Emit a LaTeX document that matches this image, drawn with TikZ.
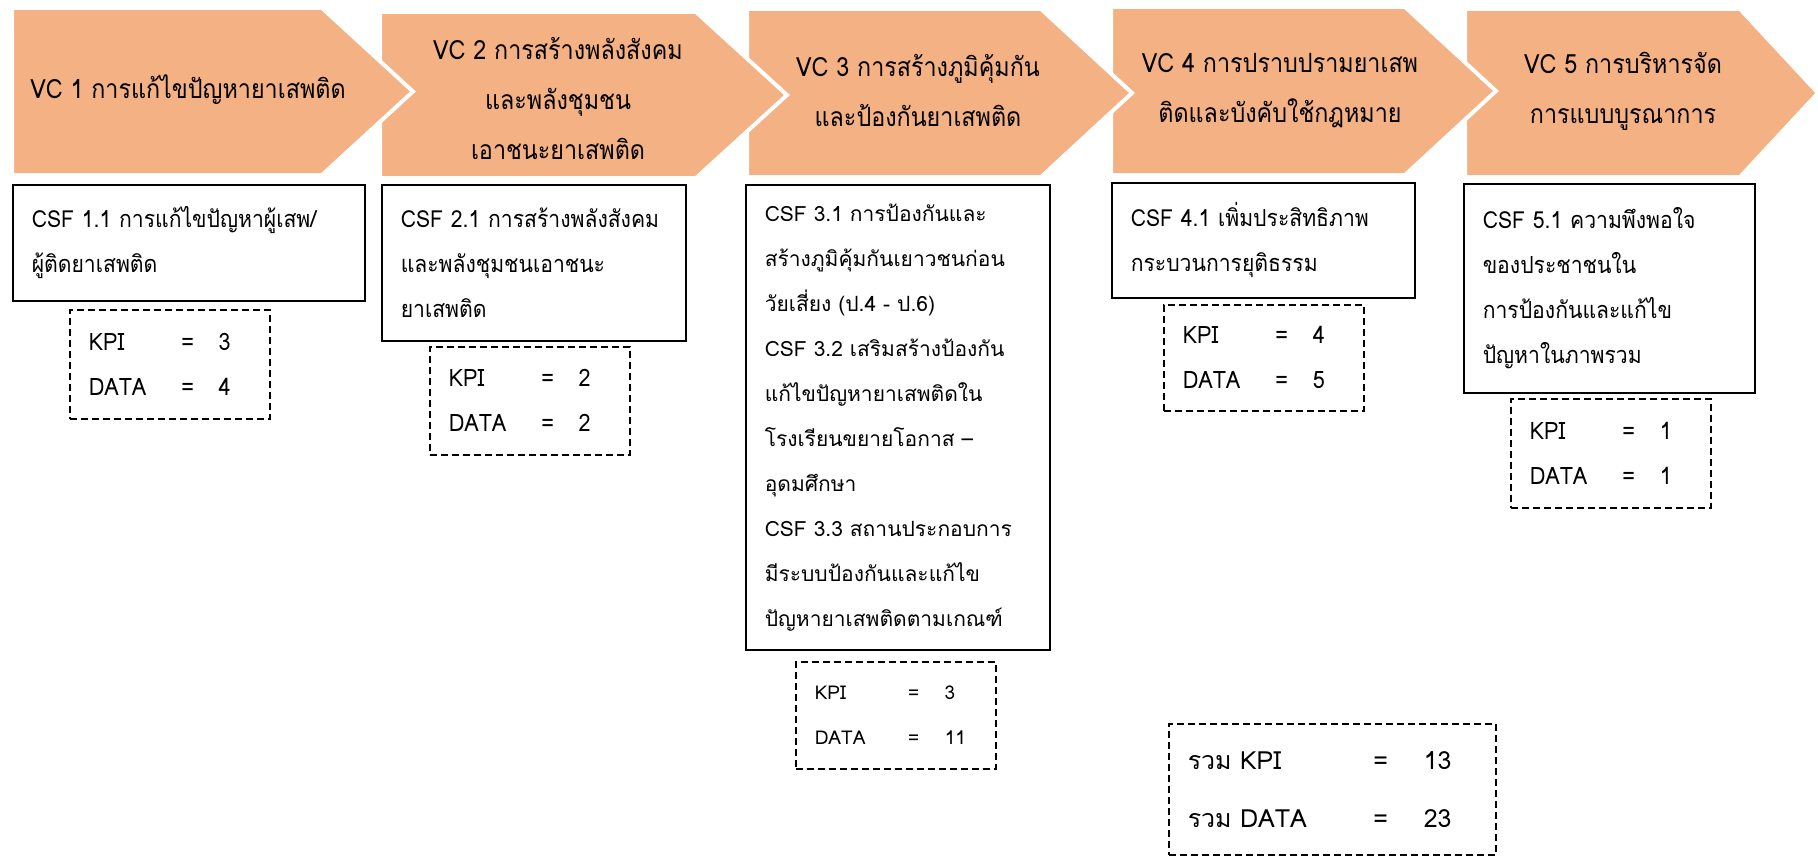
\documentclass[tikz,border=0pt]{standalone}
\usepackage{fontspec}
\setmainfont[Script=Thai]{Loma}
\newfontfamily\narrowfont[Script=Thai,FakeStretch=0.88]{Loma}
\newfontfamily\csffont[Script=Thai,FakeStretch=0.9]{Loma}
\usetikzlibrary{positioning}
\definecolor{vcorange}{HTML}{F4B183}
\tikzset{
  vcshape/.style={fill=vcorange, draw=white, line width=4pt},
  vclabel/.style={align=center, inner sep=0pt, font=\narrowfont\fontsize{26.5}{50}\selectfont},
  csfbox/.style={draw, line width=1.5pt, anchor=north west, align=left, inner xsep=19pt, inner ysep=0pt, font=\csffont\fontsize{23.5}{45}\selectfont},
  csfwide/.style={csfbox, font=\fontsize{21}{45}\selectfont},
  kpibox/.style={draw, line width=1.5pt, dash pattern=on 7pt off 4pt, anchor=north west, align=left, inner xsep=19pt, inner ysep=0pt, text width=162pt, font=\csffont\fontsize{24}{45}\selectfont},
  kpiwide/.style={kpibox, font=\fontsize{19}{45}\selectfont}
}
\newcommand{\kpidata}[2]{\makebox[86pt][l]{KPI}\makebox[26pt]{=}\hspace{18pt}#1\\
  \makebox[86pt][l]{DATA}\makebox[26pt]{=}\hspace{18pt}#2}
\begin{document}
\begin{tikzpicture}[x=1pt, y=-1pt]
  \useasboundingbox (0,0) rectangle (1818,856);
  \foreach \l/\t/\s/\b/\p in {1465/9/1740/177/1818, 1111/7/1405/175/1496, 747/9/1041/177/1132, 380/12/696/178/787, 12/8/322/175/413}
    \draw[vcshape] (\l,\t) -- (\s,\t) -- (\p,{(\t+\b)/2}) -- (\s,\b) -- (\l,\b) -- cycle;

  \node[vclabel] (vc1) at (188,90) {VC 1 การแก้ไขปัญหายาเสพติด};
  \node[vclabel] (vc2) at (558,99) {VC 2 การสร้างพลังสังคม\\และพลังชุมชน\\เอาชนะยาเสพติด};
  \node[vclabel] (vc3) at (918,91) {VC 3 การสร้างภูมิคุ้มกัน\\และป้องกันยาเสพติด};
  \node[vclabel] (vc4) at (1280,91) {VC 4 การปราบปรามยาเสพ\\ติดและบังคับใช้กฎหมาย};
  \node[vclabel] (vc5) at (1623,91) {VC 5 การบริหารจัด\\การแบบบูรณาการ};

  \node[csfbox, text width=314pt, minimum height=116pt] (csf1) at (12,184)
    {CSF~1.1~การแก้ไขปัญหาผู้เสพ/\\ผู้ติดยาเสพติด};
  \node[csfbox, text width=266pt, minimum height=156pt] (csf2) at (381,184)
    {CSF~2.1~การสร้างพลังสังคม\\และพลังชุมชนเอาชนะ\\ยาเสพติด};
  \node[csfwide, text width=266pt, minimum height=465pt] (csf3) at (745,184)
    {CSF 3.1 การป้องกันและ\\สร้างภูมิคุ้มกันเยาวชนก่อน\\วัยเสี่ยง (ป.4 - ป.6)\\
     CSF 3.2 เสริมสร้างป้องกัน\\แก้ไขปัญหายาเสพติดใน\\โรงเรียนขยายโอกาส –\\อุดมศึกษา\\
     CSF 3.3 สถานประกอบการ\\มีระบบป้องกันและแก้ไข\\ปัญหายาเสพติดตามเกณฑ์};
  \node[csfbox, text width=265pt, minimum height=115pt] (csf4) at (1111,182)
    {CSF~4.1~เพิ่มประสิทธิภาพ\\กระบวนการยุติธรรม};
  \node[csfbox, text width=253pt, minimum height=209pt] (csf5) at (1463,183)
    {CSF 5.1 ความพึงพอใจ\\ของประชาชนใน\\การป้องกันและแก้ไข\\ปัญหาในภาพรวม};

  \node[kpibox, minimum height=109pt] (kpi1) at (69,309) {\kpidata{3}{4}};
  \node[kpibox, minimum height=108pt] (kpi2) at (429,346) {\kpidata{2}{2}};
  \node[kpiwide, minimum height=107pt] (kpi3) at (795,661) {\kpidata{3}{11}};
  \node[kpibox, minimum height=106pt] (kpi4) at (1163,304) {\kpidata{4}{5}};
  \node[kpibox, minimum height=109pt] (kpi5) at (1510,398) {\kpidata{1}{1}};

  \node[kpibox, text width=289pt, minimum height=131pt, font=\fontsize{25}{58}\selectfont] (total) at (1168,723)
    {\makebox[178pt][l]{รวม KPI}\makebox[30pt]{=}\hspace{28pt}13\\
     \makebox[178pt][l]{รวม DATA}\makebox[30pt]{=}\hspace{28pt}23};
\end{tikzpicture}
\end{document}
